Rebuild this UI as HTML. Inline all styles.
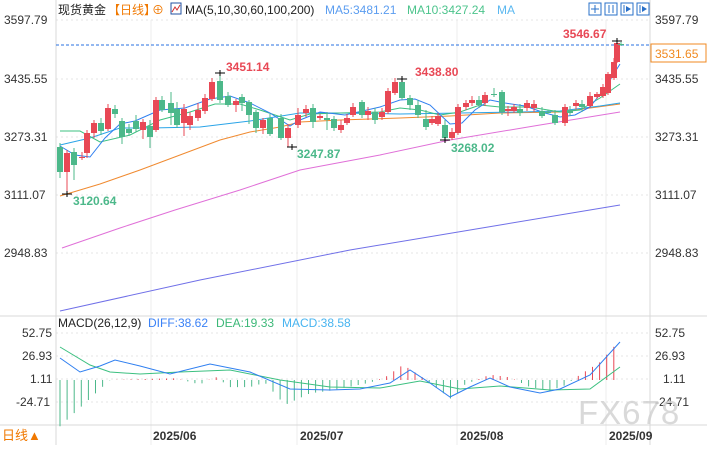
<!DOCTYPE html><html><head><meta charset="utf-8"><style>
body{margin:0;background:#fff;width:707px;height:445px;overflow:hidden;font-family:"Liberation Sans","Noto Sans CJK SC",sans-serif}
svg text{font-family:"Liberation Sans","Noto Sans CJK SC",sans-serif}
</style></head><body>
<svg id="s" width="707" height="445" xmlns="http://www.w3.org/2000/svg">
<rect width="707" height="445" fill="#fff"/>
<g stroke="#e4e4e4" stroke-dasharray="2,3">
<line x1="56" x2="650" y1="20" y2="20"/><line x1="56" x2="650" y1="79" y2="79"/><line x1="56" x2="650" y1="137" y2="137"/><line x1="56" x2="650" y1="195" y2="195"/><line x1="56" x2="650" y1="253" y2="253"/>
<line x1="56" x2="650" y1="333" y2="333"/><line x1="56" x2="650" y1="356" y2="356"/><line x1="56" x2="650" y1="379" y2="379"/><line x1="56" x2="650" y1="402" y2="402"/>
</g>
<g stroke="#ececec"><line x1="151" x2="151" y1="20" y2="445"/><line x1="297" x2="297" y1="20" y2="445"/><line x1="457" x2="457" y1="20" y2="445"/><line x1="606" x2="606" y1="20" y2="445"/></g>
<g stroke="#d8d8d8"><line x1="56" x2="56" y1="0" y2="445"/><line x1="650" x2="650" y1="0" y2="445"/><line x1="0" x2="707" y1="316" y2="316"/><line x1="0" x2="707" y1="425" y2="425"/></g>
<g font-size="12" fill="#333">
<text x="4" y="24">3597.79</text><text x="4" y="83">3435.55</text><text x="4" y="141">3273.31</text><text x="4" y="199">3111.07</text><text x="4" y="257">2948.83</text>
<text x="655" y="24">3597.79</text><text x="655" y="83">3435.55</text><text x="655" y="141">3273.31</text><text x="655" y="199">3111.07</text><text x="655" y="257">2948.83</text>
<text x="22" y="337">52.75</text><text x="22" y="360">26.93</text><text x="30" y="383">1.11</text><text x="16" y="406">-24.71</text>
<text x="655" y="337">52.75</text><text x="655" y="360">26.93</text><text x="663" y="383">1.11</text><text x="655" y="406">-24.71</text>
</g>
<text x="578" y="424" font-size="33" fill="#d0d0d0" fill-opacity="0.8" letter-spacing="1">FX678</text>
<g font-size="12" font-weight="bold" fill="#333"><text x="153" y="440">2025/06</text><text x="300" y="440">2025/07</text><text x="460" y="440">2025/08</text><text x="609" y="440">2025/09</text></g>
<text x="2" y="440" font-size="13" fill="#f07800">日线▲</text>
<g font-size="12">
<text x="58" y="14" fill="#222">现货黄金</text><text x="108" y="14" fill="#f07800">【日线】</text><text x="152" y="14" fill="#f07800">⊕</text>
<rect x="171" y="3" width="10" height="11" fill="#fff" stroke="#2050a0"/><polyline points="172,12 175,7 177,10 180,5" fill="none" stroke="#d03030"/>
<text x="185" y="14" fill="#222">MA(5,10,30,60,100,200)</text><text x="325" y="14" fill="#5b9df0">MA5:3481.21</text><text x="407" y="14" fill="#4cc48c">MA10:3427.24</text><text x="497" y="14" fill="#5bb8f0">MA</text>
<text x="58" y="327" fill="#222">MACD(26,12,9)</text><text x="148" y="327" fill="#3b82f6">DIFF:38.62</text><text x="216" y="327" fill="#3cb878">DEA:19.33</text><text x="282" y="327" fill="#48b4f0">MACD:38.58</text>
</g>
<g fill="#fff" stroke="#2a70c8"><rect x="589" y="3" width="12" height="12"/><rect x="605" y="3" width="12" height="12"/><rect x="621" y="3" width="12" height="12"/><rect x="637" y="3" width="12" height="12"/></g>
<g stroke="#2a70c8"><line x1="595" x2="595" y1="5" y2="13"/><line x1="591" x2="599" y1="9" y2="9"/><line x1="609" x2="609" y1="5" y2="13"/><line x1="613" x2="613" y1="5" y2="13"/><line x1="624" x2="624" y1="5" y2="13"/><line x1="640" x2="640" y1="5" y2="13"/></g>
<g fill="#2a70c8"><polygon points="626,6 631,9 626,12"/><polygon points="642,6 647,9 642,12"/></g>
<line x1="56" x2="650" y1="45" y2="45" stroke="#2a70e0" stroke-dasharray="3,2"/>
<rect x="651" y="44" width="55" height="18" fill="#fff" stroke="#f08a20"/><text x="655" y="58" font-size="12" fill="#f08a20">3531.65</text>
<g id="c"></g>
<g font-size="12" font-weight="bold">
<text x="226" y="71" fill="#e84855">3451.14</text><text x="415" y="76" fill="#e84855">3438.80</text><text x="563" y="38" fill="#e84855">3546.67</text>
<text x="73" y="205" fill="#4cb88a">3120.64</text><text x="297" y="158" fill="#4cb88a">3247.87</text><text x="451" y="152" fill="#4cb88a">3268.02</text>
</g>
</svg>
<script>
const g=document.getElementById('c');let h='';
function pl(p,c,w){h+=`<polyline points="${p}" fill="none" stroke="${c}" stroke-width="${w||1}"/>`;}
pl("60,311 200,280 350,250 500,225 620,205","#7070e8");
pl("62,248 120,228 175,210 240,190 300,170 380,155 450,140 540,125 620,112","#e070d8");
pl("60,196 100,184 140,170 180,155 220,140 250,132 280,127 300,122 340,120 400,118 450,116 500,113 560,112 620,104","#f08a30");
pl("60,145 90,138 120,128 150,128 200,127 250,121 300,113 340,113 400,114 460,113 520,112 560,111 600,106 620,103","#2aa4e8");
pl("60,131 80,131 100,142 130,135 160,120 190,112 215,104 240,104 260,110 290,120 310,114 340,113 380,112 400,108 420,110 440,115 460,112 480,105 500,107 530,107 560,112 580,110 600,98 620,84","#3cc080");
pl("60,146 75,155 90,157 105,138 120,124 135,121 160,110 185,108 210,99 230,96 250,103 270,113 290,126 300,120 320,112 345,115 380,107 400,100 415,99 430,105 450,124 462,123 475,110 490,100 505,103 525,106 545,113 560,117 575,115 590,107 605,88 620,64","#2f7ff0");
const C=[[60,147,172,143,178],[67,172,153,150,194],[74,152,165,148,180],[82,158,157,152,160],[87,153,133,130,158],[94,133,123,120,138],[101,123,131,118,135],[108,129,108,104,131],[115,109,114,105,118],[122,121,137,118,144],[129,129,133,124,136],[136,121,129,115,132],[143,130,122,119,139],[150,126,137,120,148],[156,130,100,97,132],[162,100,110,96,112],[171,103,113,92,125],[177,109,125,102,128],[184,123,109,104,136],[190,125,116,112,130],[198,118,110,103,121],[205,111,98,94,114],[212,99,82,78,101],[220,81,100,73,103],[228,96,105,92,107],[236,105,101,99,112],[242,97,103,94,111],[249,102,115,100,124],[256,112,128,110,133],[263,128,120,118,134],[270,118,134,114,136],[281,118,138,114,140],[288,138,128,124,147],[298,125,115,108,128],[306,113,109,105,117],[313,108,122,104,128],[320,118,116,114,120],[327,118,120,112,130],[334,119,128,116,131],[341,130,125,120,133],[347,123,118,114,125],[353,115,107,103,117],[362,102,115,100,118],[368,115,111,107,120],[375,112,120,108,124],[382,117,112,108,120],[388,112,91,88,114],[395,93,82,78,95],[402,82,98,79,100],[410,98,105,95,110],[418,105,115,100,118],[426,119,127,110,130],[432,123,119,116,125],[438,124,116,113,126],[445,125,138,120,140],[452,138,132,128,140],[458,133,107,104,135],[466,107,103,100,110],[472,103,100,96,106],[479,100,105,96,108],[485,103,95,92,106],[494,94,95,88,97],[502,92,112,90,115],[508,111,109,106,116],[514,111,107,104,113],[520,109,113,104,116],[527,108,103,100,111],[534,108,104,100,112],[542,111,116,107,118],[548,112,112,110,114],[555,115,123,110,125],[565,123,107,104,126],[570,110,113,106,116],[576,106,103,100,109],[582,104,107,100,112],[590,106,96,92,108],[597,97,94,92,99],[603,96,87,84,98],[608,93,74,72,95],[614,78,62,58,80],[617,62,43,41,63],[621,44,45,42,46]];
C.forEach(([x,o,c,hi,lo])=>{const up=c<o;const col=up?'#e84855':'#4cb88a';h+=`<line x1="${x}" x2="${x}" y1="${hi}" y2="${lo}" stroke="${col}"/><rect x="${x-3}" y="${Math.min(o,c)}" width="6" height="${Math.max(1,Math.abs(o-c))}" fill="${col}"/>`;});
[[67,194],[220,73],[292,147],[402,79],[445,140],[617,41]].forEach(([x,y])=>{h+=`<line x1="${x-5}" x2="${x+5}" y1="${y}" y2="${y}" stroke="#000"/><line x1="${x}" x2="${x}" y1="${y-3}" y2="${y+3}" stroke="#000"/>`;});
const pts=[[60,-52],[110,0],[175,2],[200,-5],[215,4],[230,-8],[250,-8],[265,-3],[285,-28],[310,-15],[330,-12],[370,-3],[385,3],[403,17],[420,5],[440,-12],[452,-22],[465,-5],[490,6],[510,3],[530,-8],[550,-12],[565,-6],[580,6],[600,20],[620,45]];
function interp(x){for(let i=0;i<pts.length-1;i++){const[a,b]=pts[i],[c,d]=pts[i+1];if(x>=a&&x<=c)return b+(d-b)*(x-a)/(c-a);}return 0;}
for(let x=60;x<=621;x+=7.1){let v=interp(x);const y0=380,y=380-v*0.89;h+=`<line x1="${x.toFixed(1)}" x2="${x.toFixed(1)}" y1="${y0}" y2="${y.toFixed(1)}" stroke="${v>=0?'#e84855':'#4cb88a'}"/>`;}
pl("60,347 90,365 110,372 140,374 180,372 230,370 280,380 330,387 380,388 420,381 460,389 500,386 550,390 590,389 620,367","#3cc080");
pl("60,358 80,372 100,366 115,360 140,366 170,374 210,364 250,372 290,389 330,390 360,389 390,383 410,370 430,383 450,397 470,387 490,378 510,387 540,393 560,389 590,375 620,342","#2f7ff0");
g.innerHTML=h;
</script>
</body></html>
